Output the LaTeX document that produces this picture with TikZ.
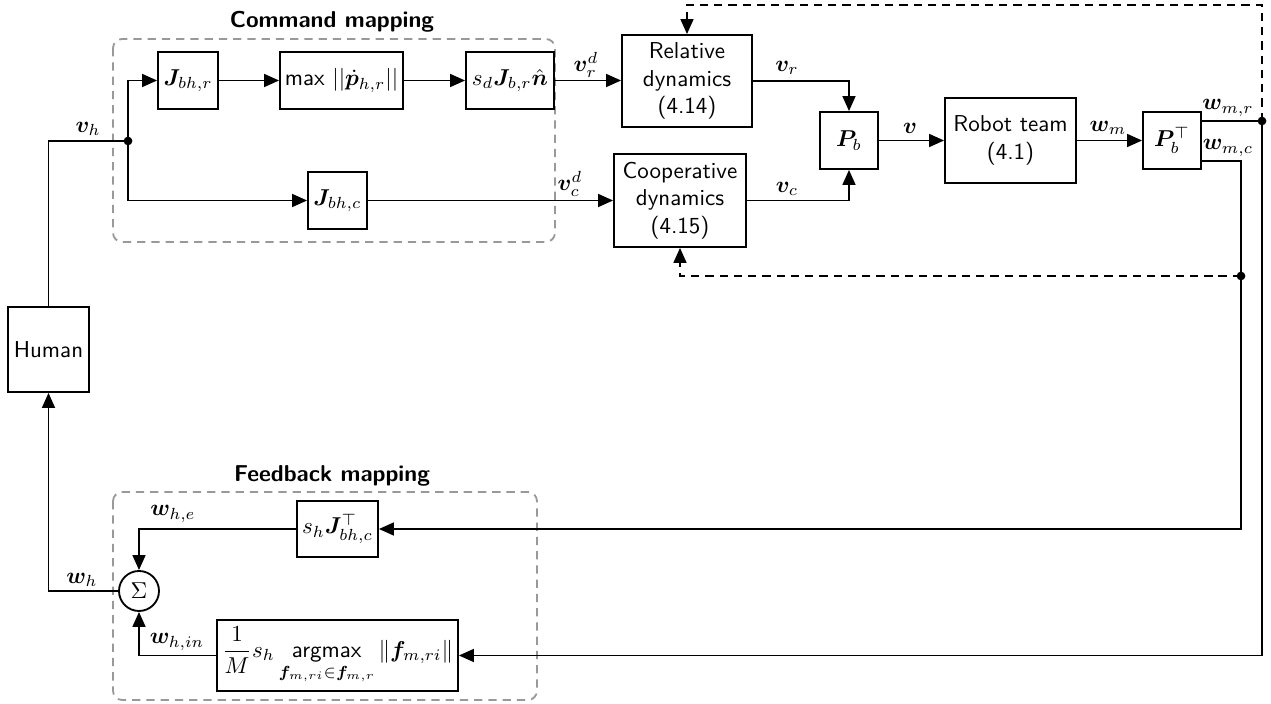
\documentclass[tikz,border=0pt]{standalone}
\usepackage{amsmath,amssymb,bm}
\usetikzlibrary{arrows.meta,calc}
\def\pxu{0.435pt}
\begin{document}
\begin{tikzpicture}[x=0.435pt,y=-0.435pt,font=\sffamily,
  line width=0.8pt,
  blk/.style={draw,rectangle,inner sep=0pt,align=center},
  arr/.style={-{Triangle[length=6.5pt,width=5.6pt]}},
  grp/.style={draw=gray!80,line width=0.8pt,rounded corners=4pt,dash pattern=on 3.6pt off 2.6pt},
  fb/.style={dash pattern=on 3.6pt off 2.6pt},
  dot/.style={circle,fill,inner sep=0pt,minimum size=3.8pt},
  lbl/.style={inner sep=0pt},
  ttl/.style={font=\sffamily\bfseries,inner sep=0pt}]
\useasboundingbox (0,0) rectangle (1271,704);
% groups
\draw[grp] (113,39) rectangle (555,242);
\draw[grp] (113,492) rectangle (537,700);
\node[ttl] (tc) at (332,22) {Command mapping};
\node[ttl] (tf) at (332,476) {Feedback mapping};
% blocks
\node[blk,minimum width=81*\pxu,minimum height=85*\pxu] (human) at (48.5,349.5) {Human};
\node[blk,minimum width=60*\pxu,minimum height=57*\pxu] (Jr) at (188,80.5) {$\bm J_{bh,r}$};
\node[blk,minimum width=123*\pxu,minimum height=57*\pxu] (maxb) at (341.5,80.5) {max $||\dot{\bm p}_{h,r}||$};
\node[blk,minimum width=88*\pxu,minimum height=57*\pxu] (sdJ) at (510,80.5) {$s_d\bm J_{b,r}\hat{\bm n}$};
\node[blk,minimum width=59*\pxu,minimum height=57*\pxu] (Jc) at (337.5,200.5) {$\bm J_{bh,c}$};
\node[blk,minimum width=130*\pxu,minimum height=92*\pxu] (rel) at (687,81) {Relative\\dynamics\\(4.14)};
\node[blk,minimum width=132*\pxu,minimum height=93*\pxu] (coop) at (680,200.5) {Cooperative\\dynamics\\(4.15)};
\node[blk,minimum width=58*\pxu,minimum height=57*\pxu] (Pb) at (849,140.5) {$\bm P_b$};
\node[blk,minimum width=131*\pxu,minimum height=85*\pxu] (robot) at (1010.5,140.5) {Robot team\\(4.1)};
\node[blk,minimum width=58*\pxu,minimum height=57*\pxu] (PbT) at (1172,140.5) {$\bm P_b^{\top}$};
\node[blk,minimum width=81*\pxu,minimum height=56*\pxu] (shJ) at (337.5,529) {$s_h\bm J_{bh,c}^{\top}$};
\node[blk,minimum width=241*\pxu,minimum height=71*\pxu] (argm) at (337.5,655.5) {$\dfrac{1}{M}s_h\mathop{\textsf{argmax}}\limits_{\bm f_{m,ri}\in\bm f_{m,r}}\|\bm f_{m,ri}\|$};
\node[draw,circle,inner sep=0pt,minimum size=40*\pxu] (sig) at (139,591) {$\Sigma$};
% junctions
\node[dot] (j) at (128,141) {};
\node[dot] (dR) at (1262,121) {};
\node[dot] (dC) at (1241,276) {};
\coordinate (oR) at (PbT.east |- dR);
\coordinate (oC) at (1201,161);
\coordinate (tR) at (1262,5);
% command path
\draw (human.north) |- (j.center);
\draw[arr] (j.center) |- (Jr.west);
\draw[arr] (j.center) |- (Jc.west);
\draw[arr] (Jr) -- (maxb);
\draw[arr] (maxb) -- (sdJ);
\draw[arr] (sdJ.east) -- (sdJ.east -| rel.west);
\draw[arr] (Jc.east) -- (Jc.east -| coop.west);
\draw[arr] (rel.east) -| (Pb.north);
\draw[arr] (coop.east) -| (Pb.south);
\draw[arr] (Pb) -- (robot);
\draw[arr] (robot) -- (PbT);
\draw (oR) -- (dR.center);
\draw (oC) -| (dC.center);
\draw[fb,arr] (dR.center) -- (tR) -| (rel.north);
\draw[fb,arr] (dC.center) -| (coop.south);
% feedback path
\draw[arr] (dC.center) |- (shJ.east);
\draw[arr] (dR.center) |- (argm.east);
\draw[arr] (shJ.west) -| (sig.north);
\draw[arr] (argm.west) -| (sig.south);
\draw[arr] (sig.west) -| (human.south);
% labels
\node[lbl] (lvh) at (88,129) {$\bm v_h$};
\node[lbl] (lvrd) at (586,65) {$\bm v_r^d$};
\node[lbl] (lvcd) at (570,184) {$\bm v_c^d$};
\node[lbl] (lvr) at (787,68) {$\bm v_r$};
\node[lbl] (lvc) at (787,189) {$\bm v_c$};
\node[lbl] (lv) at (910,128) {$\bm v$};
\node[lbl] (lwm) at (1108,128) {$\bm w_m$};
\node[lbl] (lwmr) at (1228,108) {$\bm w_{m,r}$};
\node[lbl] (lwmc) at (1228,148) {$\bm w_{m,c}$};
\node[lbl] (lwhe) at (173,514) {$\bm w_{h,e}$};
\node[lbl] (lwh) at (82,580) {$\bm w_h$};
\node[lbl] (lwhin) at (177,642) {$\bm w_{h,in}$};
\end{tikzpicture}
\end{document}
